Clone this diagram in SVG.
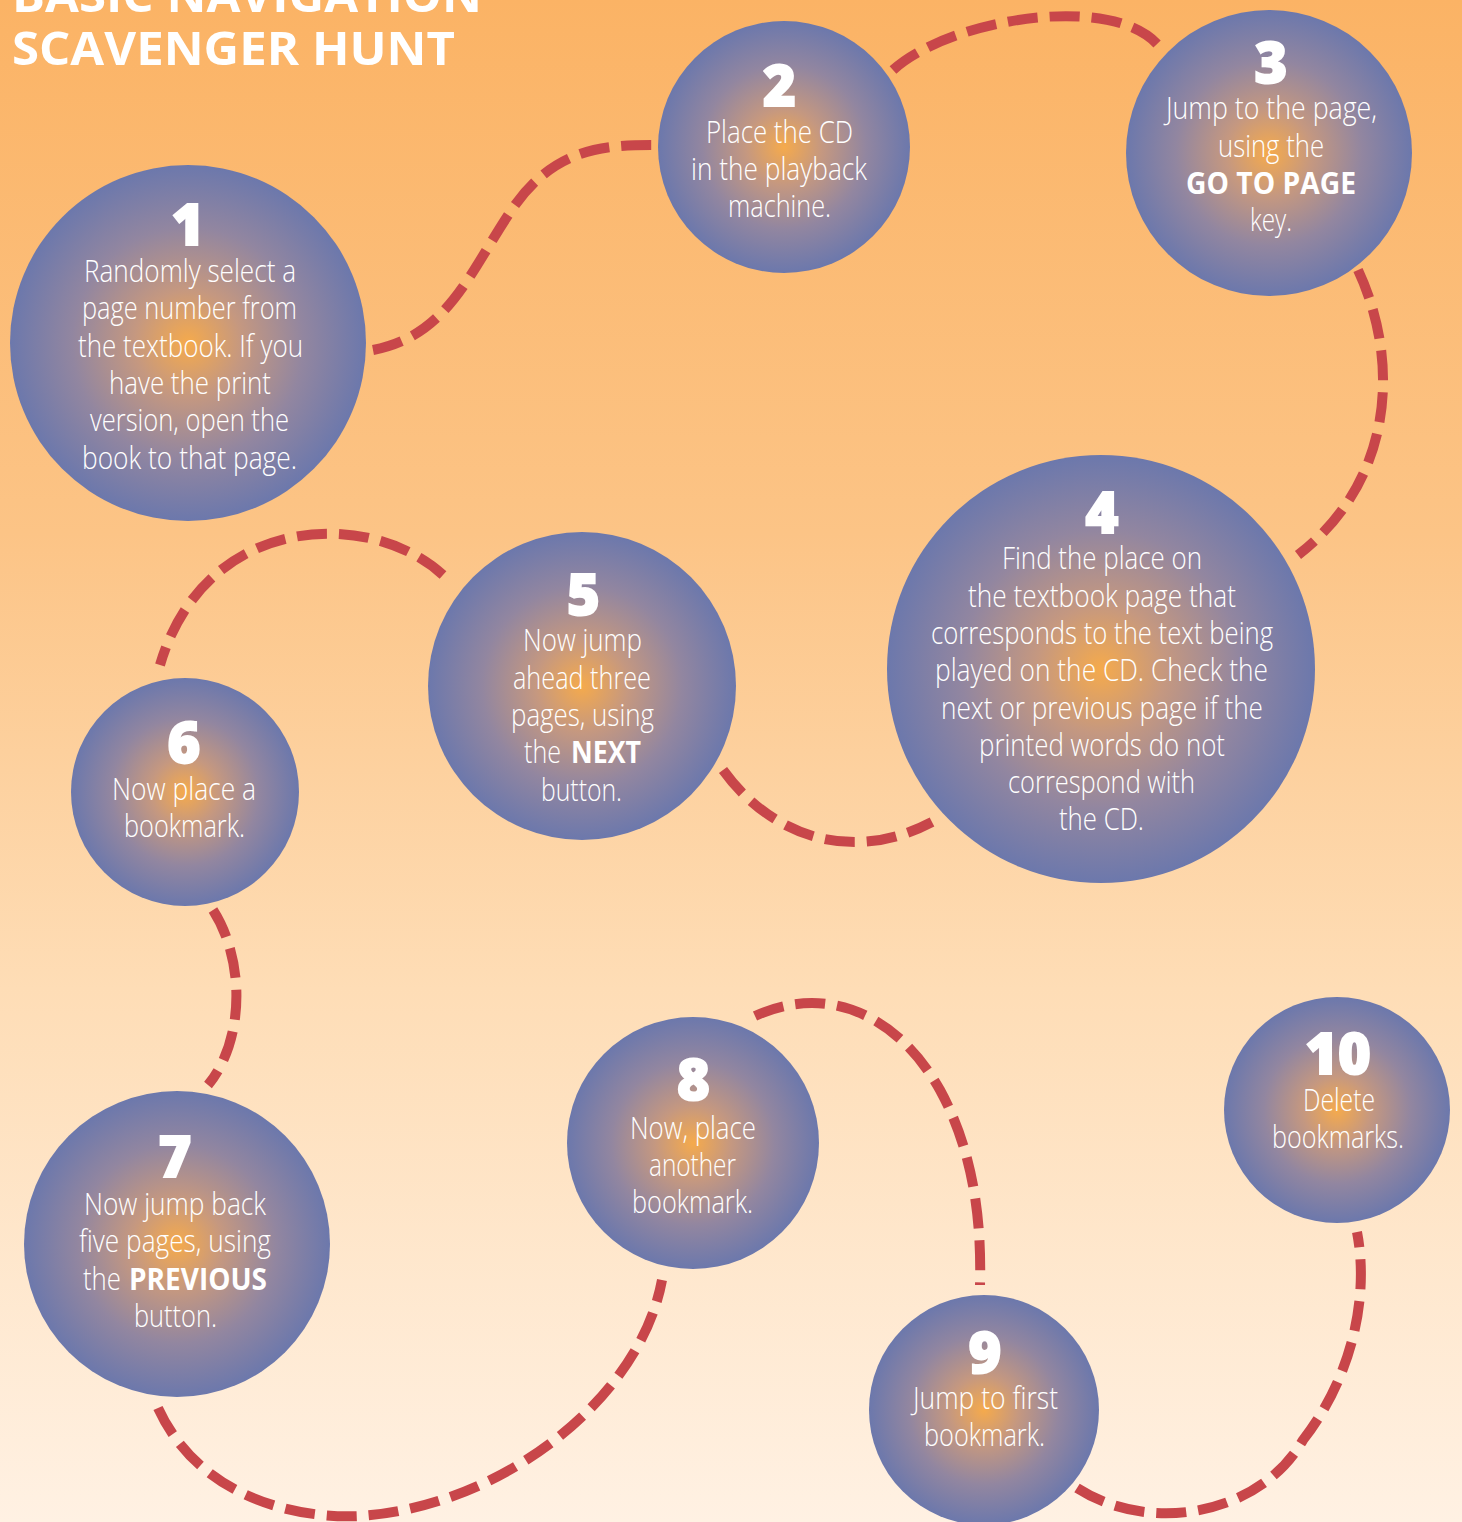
<svg xmlns="http://www.w3.org/2000/svg" width="1462" height="1522" viewBox="0 0 1462 1522">
<defs>
<linearGradient id="bg" x1="0" y1="0" x2="0" y2="1">
<stop offset="0" stop-color="#FBB365"/>
<stop offset="0.35" stop-color="#FCC486"/>
<stop offset="0.65" stop-color="#FEDDB6"/>
<stop offset="1" stop-color="#FFF1E3"/>
</linearGradient>
<radialGradient id="ball" cx="0.5" cy="0.5" r="0.5">
<stop offset="0" stop-color="#F5AA4C"/>
<stop offset="0.3" stop-color="#C59880"/>
<stop offset="0.65" stop-color="#9286A0"/>
<stop offset="1" stop-color="#6C78AC"/>
</radialGradient>
<style>
.ball{fill:url(#ball)}
.t{font-family:"Open Sans","Liberation Sans",sans-serif;font-weight:300;font-size:31px;fill:#fff;text-anchor:middle}
.b{font-family:"Open Sans","Liberation Sans",sans-serif;font-weight:700;font-size:31px;fill:#fff}
.s{text-anchor:start}
.n{font-family:"Open Sans","Liberation Sans",sans-serif;font-weight:800;font-size:56px;fill:#fff;stroke:#fff;stroke-width:2;text-anchor:middle}
.title{font-family:"Open Sans","Liberation Sans",sans-serif;font-weight:700;font-size:47px;fill:#fff}
.dash{fill:none;stroke:#C8464A;stroke-width:10;stroke-dasharray:30 12}
</style>
</defs>
<rect width="1462" height="1522" fill="url(#bg)"/>
<g id="title">
<text class="title" x="12" y="12" textLength="470" lengthAdjust="spacingAndGlyphs">BASIC NAVIGATION</text>
<text class="title" x="12" y="65" textLength="443" lengthAdjust="spacingAndGlyphs">SCAVENGER HUNT</text>
</g>
<g id="connectors">
<path class="dash" d="M 373 350 C 450 335, 470 270, 515 205 C 555 150, 600 145, 652 145"/>
<path class="dash" d="M 893 70 C 950 18, 1120 -10, 1162 50"/>
<path class="dash" d="M 1358 270 C 1400 360, 1395 480, 1298 555"/>
<path class="dash" d="M 723 770 C 770 835, 850 865, 932 822"/>
<path class="dash" d="M 443 575 C 370 508, 205 512, 160 665"/>
<path class="dash" d="M 213 910 C 245 960, 245 1040, 208 1085"/>
<path class="dash" d="M 158 1408 C 200 1500, 300 1519, 360 1516 C 500 1507, 640 1400, 662 1280"/>
<path class="dash" d="M 755 1016 C 830 982, 900 1018, 940 1090 C 970 1145, 982 1210, 980 1285"/>
<path class="dash" d="M 1077 1488 C 1150 1535, 1260 1515, 1303 1440 C 1350 1380, 1370 1300, 1357 1232"/>
</g>
<g id="node1">
<circle class="ball" cx="188" cy="343" r="178"/>
<text class="n" x="188" y="245">1</text>
<text class="t" x="190" y="282" textLength="212" lengthAdjust="spacingAndGlyphs">Randomly select a</text>
<text class="t" x="189.5" y="319.3" textLength="215" lengthAdjust="spacingAndGlyphs">page number from</text>
<text class="t" x="190.5" y="356.6" textLength="225" lengthAdjust="spacingAndGlyphs">the textbook. If you</text>
<text class="t" x="190" y="393.9" textLength="162" lengthAdjust="spacingAndGlyphs">have the print</text>
<text class="t" x="189.5" y="431.2" textLength="199" lengthAdjust="spacingAndGlyphs">version, open the</text>
<text class="t" x="189.5" y="468.5" textLength="215" lengthAdjust="spacingAndGlyphs">book to that page.</text>
</g>
<g id="node2">
<circle class="ball" cx="784" cy="147" r="126"/>
<text class="n" x="779.5" y="106">2</text>
<text class="t" x="779.5" y="142.5" textLength="147" lengthAdjust="spacingAndGlyphs">Place the CD</text>
<text class="t" x="779" y="179.8" textLength="176" lengthAdjust="spacingAndGlyphs">in the playback</text>
<text class="t" x="779.5" y="217.1" textLength="103" lengthAdjust="spacingAndGlyphs">machine.</text>
</g>
<g id="node3">
<circle class="ball" cx="1269" cy="153" r="143"/>
<text class="n" x="1271" y="83">3</text>
<text class="t" x="1271.5" y="119.3" textLength="211" lengthAdjust="spacingAndGlyphs">Jump to the page,</text>
<text class="t" x="1271" y="156.6" textLength="106" lengthAdjust="spacingAndGlyphs">using the</text>
<text class="b" x="1271" y="193.9" text-anchor="middle" textLength="170" lengthAdjust="spacingAndGlyphs">GO TO PAGE</text>
<text class="t" x="1271" y="231.2" textLength="42" lengthAdjust="spacingAndGlyphs">key.</text>
</g>
<g id="node4">
<circle class="ball" cx="1101" cy="669" r="214"/>
<text class="n" x="1102" y="533">4</text>
<text class="t" x="1102" y="569.3" textLength="200" lengthAdjust="spacingAndGlyphs">Find the place on</text>
<text class="t" x="1102" y="606.6" textLength="268" lengthAdjust="spacingAndGlyphs">the textbook page that</text>
<text class="t" x="1102" y="643.9" textLength="342" lengthAdjust="spacingAndGlyphs">corresponds to the text being</text>
<text class="t" x="1101.5" y="681.2" textLength="333" lengthAdjust="spacingAndGlyphs">played on the CD. Check the</text>
<text class="t" x="1102" y="718.5" textLength="322" lengthAdjust="spacingAndGlyphs">next or previous page if the</text>
<text class="t" x="1102" y="755.8" textLength="246" lengthAdjust="spacingAndGlyphs">printed words do not</text>
<text class="t" x="1101.5" y="793.1" textLength="187" lengthAdjust="spacingAndGlyphs">correspond with</text>
<text class="t" x="1101.5" y="830.4" textLength="85" lengthAdjust="spacingAndGlyphs">the CD.</text>
</g>
<g id="node5">
<circle class="ball" cx="582" cy="686" r="154"/>
<text class="n" x="583.5" y="615">5</text>
<text class="t" x="582.5" y="651.3" textLength="119" lengthAdjust="spacingAndGlyphs">Now jump</text>
<text class="t" x="582" y="688.6" textLength="138" lengthAdjust="spacingAndGlyphs">ahead three</text>
<text class="t" x="582.5" y="725.9" textLength="143" lengthAdjust="spacingAndGlyphs">pages, using</text>
<text class="t s" x="524" y="763.2" textLength="37" lengthAdjust="spacingAndGlyphs">the</text>
<text class="b" x="571" y="763.2" textLength="70" lengthAdjust="spacingAndGlyphs">NEXT</text>
<text class="t" x="581.5" y="800.5" textLength="81" lengthAdjust="spacingAndGlyphs">button.</text>
</g>
<g id="node6">
<circle class="ball" cx="185" cy="792" r="114"/>
<text class="n" x="184" y="763">6</text>
<text class="t" x="184" y="799.5" textLength="144" lengthAdjust="spacingAndGlyphs">Now place a</text>
<text class="t" x="184.5" y="836.8" textLength="121" lengthAdjust="spacingAndGlyphs">bookmark.</text>
</g>
<g id="node7">
<circle class="ball" cx="177" cy="1244" r="153"/>
<text class="n" x="175" y="1177">7</text>
<text class="t" x="175" y="1215" textLength="182" lengthAdjust="spacingAndGlyphs">Now jump back</text>
<text class="t" x="175" y="1252.3" textLength="192" lengthAdjust="spacingAndGlyphs">five pages, using</text>
<text class="t s" x="83" y="1289.6" textLength="38" lengthAdjust="spacingAndGlyphs">the</text>
<text class="b" x="129" y="1289.6" textLength="138" lengthAdjust="spacingAndGlyphs">PREVIOUS</text>
<text class="t" x="175.5" y="1326.9" textLength="83" lengthAdjust="spacingAndGlyphs">button.</text>
</g>
<g id="node8">
<circle class="ball" cx="693" cy="1143" r="126"/>
<text class="n" x="693.5" y="1100">8</text>
<text class="t" x="693" y="1138.7" textLength="126" lengthAdjust="spacingAndGlyphs">Now, place</text>
<text class="t" x="692.5" y="1176" textLength="87" lengthAdjust="spacingAndGlyphs">another</text>
<text class="t" x="692.5" y="1213.3" textLength="121" lengthAdjust="spacingAndGlyphs">bookmark.</text>
</g>
<g id="node9">
<circle class="ball" cx="984" cy="1410" r="115"/>
<text class="n" x="985" y="1373">9</text>
<text class="t" x="985.5" y="1408.7" textLength="145" lengthAdjust="spacingAndGlyphs">Jump to first</text>
<text class="t" x="984.5" y="1446" textLength="121" lengthAdjust="spacingAndGlyphs">bookmark.</text>
</g>
<g id="node10">
<circle class="ball" cx="1337" cy="1110" r="113"/>
<text class="n" x="1338" y="1074">10</text>
<text class="t" x="1339" y="1111" textLength="72" lengthAdjust="spacingAndGlyphs">Delete</text>
<text class="t" x="1338" y="1148.3" textLength="132" lengthAdjust="spacingAndGlyphs">bookmarks.</text>
</g>
</svg>
